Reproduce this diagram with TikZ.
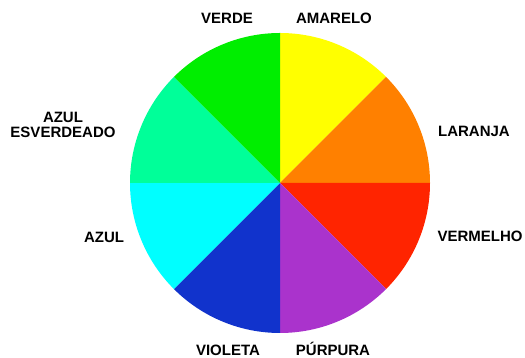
\documentclass[tikz,border=0pt]{standalone}
\usepackage{fontspec}
\setmainfont{Liberation Sans}
\definecolor{cYellow}{HTML}{FFFF00}
\definecolor{cOrange}{HTML}{FF8000}
\definecolor{cRed}{HTML}{FF2400}
\definecolor{cPurple}{HTML}{AA33CC}
\definecolor{cViolet}{HTML}{1133CC}
\definecolor{cCyan}{HTML}{00FFFF}
\definecolor{cSea}{HTML}{00FF99}
\definecolor{cGreen}{HTML}{00EE00}
\tikzset{
  lbl/.style={font=\fontsize{15}{15}\selectfont\bfseries, inner sep=0pt, text height=11pt, text depth=0pt, anchor=center},
  lbl2/.style={font=\fontsize{15}{15}\selectfont\bfseries, inner sep=0pt, align=center, anchor=center}
}
\begin{document}
\begin{tikzpicture}[x=1pt,y=1pt]
\useasboundingbox (0,0) rectangle (525,358);
\coordinate (c) at (280,175);
\def\R{150}
\fill[cYellow] (c) -- ++(90:\R) arc (90:45:\R) -- cycle;
\fill[cOrange] (c) -- ++(45:\R) arc (45:0:\R) -- cycle;
\fill[cRed] (c) -- ++(0:\R) arc (0:-45:\R) -- cycle;
\fill[cPurple] (c) -- ++(-45:\R) arc (-45:-90:\R) -- cycle;
\fill[cViolet] (c) -- ++(-90:\R) arc (-90:-135:\R) -- cycle;
\fill[cCyan] (c) -- ++(-135:\R) arc (-135:-180:\R) -- cycle;
\fill[cSea] (c) -- ++(180:\R) arc (180:135:\R) -- cycle;
\fill[cGreen] (c) -- ++(135:\R) arc (135:90:\R) -- cycle;
\node[lbl] (verde) at (227,340) {VERDE};
\node[lbl] (amarelo) at (334,340) {AMARELO};
\node[lbl] (laranja) at (474,227) {LARANJA};
\node[lbl] (vermelho) at (480,122) {VERMELHO};
\node[lbl] (purpura) at (333,8) {PÚRPURA};
\node[lbl] (violeta) at (228,8) {VIOLETA};
\node[lbl] (azul) at (104,121) {AZUL};
\node[lbl2] (azulesv) at (63,233) {AZUL\\ESVERDEADO};
\end{tikzpicture}
\end{document}
